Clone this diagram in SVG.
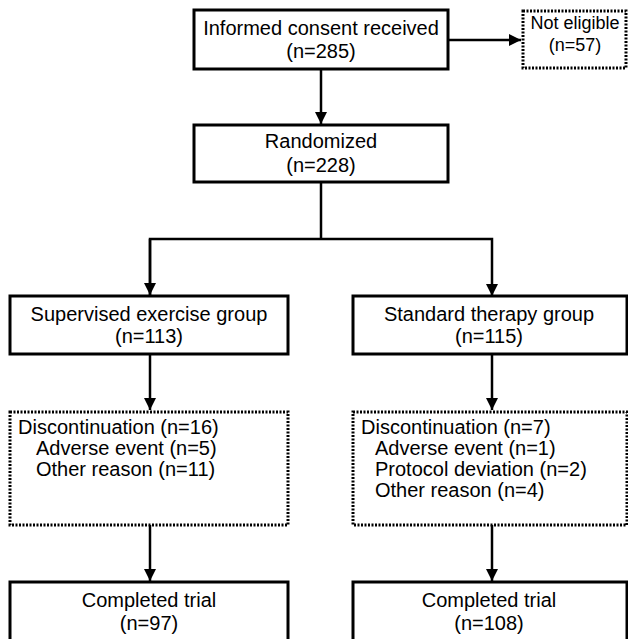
<svg xmlns="http://www.w3.org/2000/svg" width="628" height="639" viewBox="0 0 628 639">
<defs>
<style>
.box{fill:#fff;stroke:#000;stroke-width:3}
.dot{fill:#fff;stroke:#000;stroke-width:3;stroke-dasharray:2 1.5}
.t{font-family:"Liberation Sans",Arial,sans-serif;font-size:20px;fill:#000}
.s{font-size:18px}
.c{text-anchor:middle}
.ln{fill:none;stroke:#000;stroke-width:2.5}
</style>
<marker id="ah" viewBox="0 0 10 10" refX="10" refY="5" markerWidth="5" markerHeight="5" orient="auto" markerUnits="strokeWidth">
<path d="M0,0 L10,5 L0,10 Z" fill="#000"/>
</marker>
</defs>
<rect width="628" height="639" fill="#fff"/>
<g id="connectors">
<line class="ln" x1="448" y1="40" x2="521" y2="40" marker-end="url(#ah)"/>
<line class="ln" x1="321" y1="69" x2="321" y2="124" marker-end="url(#ah)"/>
<polyline class="ln" points="321,182 321,239"/>
<polyline class="ln" points="150,296 150,239 492,239 492,296" marker-end="url(#ah)"/>
<line class="ln" x1="150" y1="239" x2="150" y2="295" marker-end="url(#ah)"/>
<line class="ln" x1="150" y1="354" x2="150" y2="410" marker-end="url(#ah)"/>
<line class="ln" x1="492" y1="354" x2="492" y2="410" marker-end="url(#ah)"/>
<line class="ln" x1="150" y1="525" x2="150" y2="581" marker-end="url(#ah)"/>
<line class="ln" x1="492" y1="525" x2="492" y2="581" marker-end="url(#ah)"/>
</g>
<g id="consent">
<rect class="box" x="194" y="10" width="254" height="59"/>
<text class="t c" x="321" y="35">Informed consent received</text>
<text class="t c" x="321" y="58">(n=285)</text>
</g>
<g id="noteligible">
<rect class="dot" x="523" y="11" width="103" height="57"/>
<text class="t s c" x="575" y="29">Not eligible</text>
<text class="t s c" x="575" y="51">(n=57)</text>
</g>
<g id="randomized">
<rect class="box" x="194" y="125" width="254" height="57"/>
<text class="t c" x="321" y="148">Randomized</text>
<text class="t c" x="321" y="172">(n=228)</text>
</g>
<g id="supervised">
<rect class="box" x="10" y="296" width="278" height="58"/>
<text class="t c" x="149" y="321">Supervised exercise group</text>
<text class="t c" x="149" y="343">(n=113)</text>
</g>
<g id="standard">
<rect class="box" x="353" y="296" width="274" height="58"/>
<text class="t c" x="489" y="321">Standard therapy group</text>
<text class="t c" x="489" y="343">(n=115)</text>
</g>
<g id="disc-left">
<rect class="dot" x="10" y="412" width="278" height="113"/>
<text class="t" x="18" y="434">Discontinuation (n=16)</text>
<text class="t" x="36" y="455">Adverse event (n=5)</text>
<text class="t" x="36" y="476">Other reason (n=11)</text>
</g>
<g id="disc-right">
<rect class="dot" x="353" y="412" width="274" height="113"/>
<text class="t" x="361" y="434">Discontinuation (n=7)</text>
<text class="t" x="375" y="455">Adverse event (n=1)</text>
<text class="t" x="375" y="476">Protocol deviation (n=2)</text>
<text class="t" x="375" y="497">Other reason (n=4)</text>
</g>
<g id="completed-left">
<rect class="box" x="10" y="582" width="278" height="60"/>
<text class="t c" x="149" y="607">Completed trial</text>
<text class="t c" x="149" y="630">(n=97)</text>
</g>
<g id="completed-right">
<rect class="box" x="353" y="582" width="274" height="60"/>
<text class="t c" x="489" y="607">Completed trial</text>
<text class="t c" x="489" y="630">(n=108)</text>
</g>
</svg>
